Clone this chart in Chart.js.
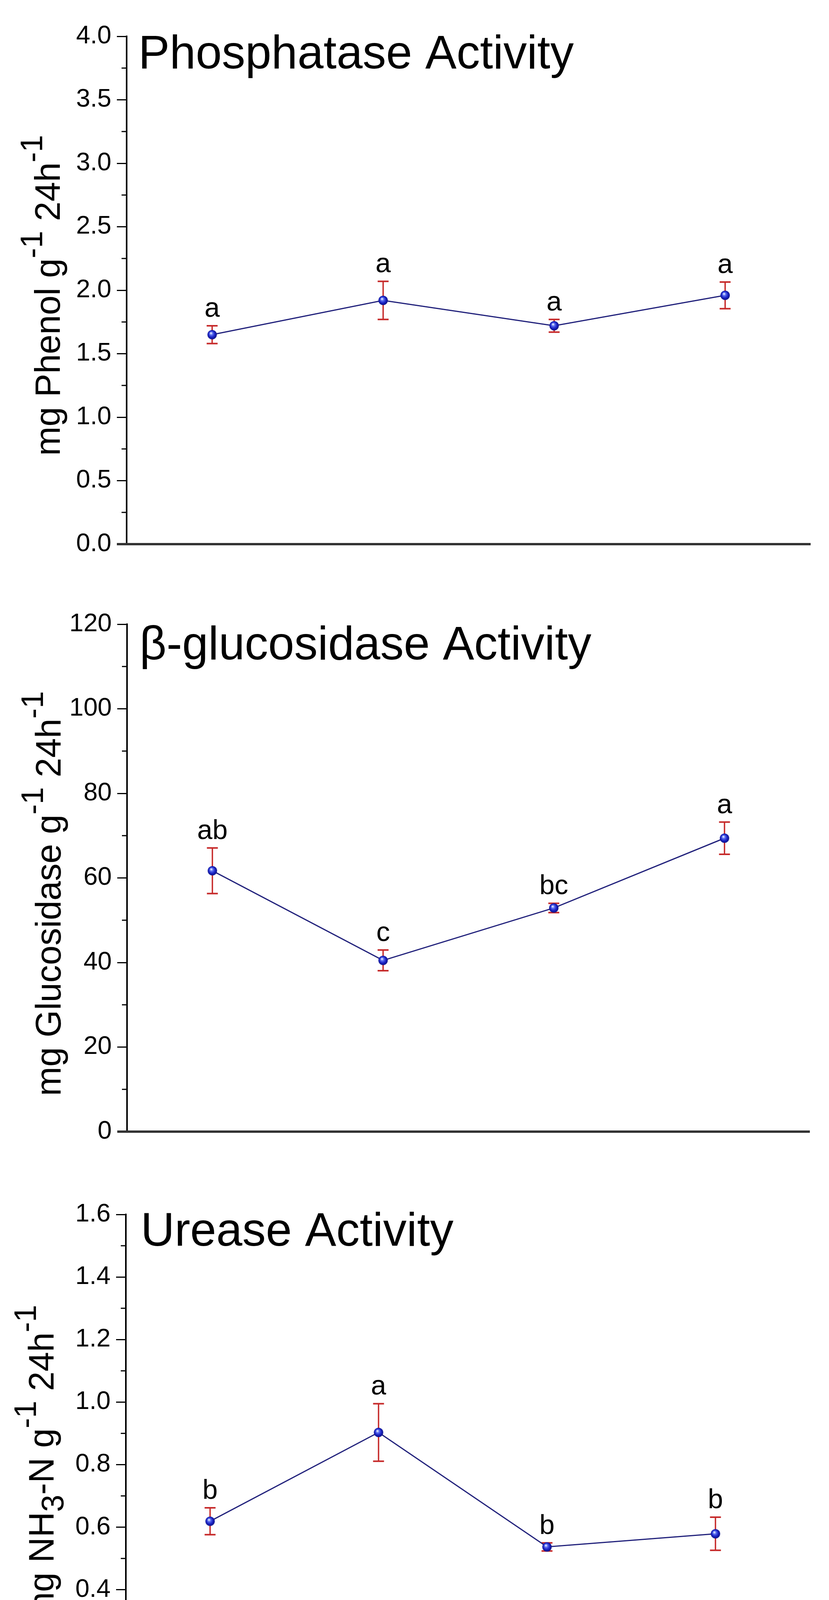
<!DOCTYPE html>
<html>
<head>
<meta charset="utf-8">
<script src="https://cdn.jsdelivr.net/npm/chart.js@4.4.1/dist/chart.umd.min.js"></script>
<style>
html, body { margin: 0; padding: 0; background: #fff; }
body { width: 2121px; height: 4557px; position: relative; overflow: hidden; }
.panel { position: absolute; left: 0; width: 2121px; }
</style>
</head>
<body>
<div class="panel" style="top:0;height:1500px"><canvas id="phos"></canvas></div>
<div class="panel" style="top:1500px;height:1500px"><canvas id="gluc"></canvas></div>
<div class="panel" style="top:3000px;height:1557px"><canvas id="urea"></canvas></div>
<script>
// data
const categories = ['CFF-3', 'CFF-15', 'CFF-25', 'CFF-45'];

const phosphatase = [1.65, 1.92, 1.72, 1.96];
const phosphataseErr = [0.07, 0.15, 0.05, 0.105];
const phosphataseLetters = ['a', 'a', 'a', 'a'];

const glucosidase = [61.7, 40.5, 52.9, 69.4];
const glucosidaseErr = [5.4, 2.45, 1.1, 3.8];
const glucosidaseLetters = ['ab', 'c', 'bc', 'a'];

const urease = [0.619, 0.903, 0.537, 0.579];
const ureaseErr = [0.043, 0.092, 0.013, 0.053];
const ureaseLetters = ['b', 'a', 'b', 'b'];

const FONT = '"Liberation Sans", Arial, Helvetica, sans-serif';

// shaded blue ball used as marker
function sphere() {
    const c = document.createElement('canvas');
    c.width = 26; c.height = 26;
    const g = c.getContext('2d');
    const grad = g.createRadialGradient(10, 9, 1, 13, 13, 13);
    grad.addColorStop(0, '#e4ecff');
    grad.addColorStop(0.25, '#5d6ff0');
    grad.addColorStop(0.6, '#1b24c6');
    grad.addColorStop(1, '#0a0c78');
    g.fillStyle = grad;
    g.beginPath();
    g.arc(13, 13, 12, 0, Math.PI * 2);
    g.fill();
    return c;
}
const ball = sphere();

// rotated axis title with super/subscripts
function drawRich(ctx, segs, x, y, size) {
    ctx.save();
    ctx.translate(x, y);
    ctx.rotate(-Math.PI / 2);
    ctx.textBaseline = 'alphabetic';
    ctx.textAlign = 'left';
    ctx.fillStyle = '#000';
    const parts = segs.map(s => {
        const fs = (s.sup || s.sub) ? size * 0.88 : size;
        ctx.font = fs + 'px ' + FONT;
        return {s: s, fs: fs, w: ctx.measureText(s.t).width};
    });
    const total = parts.reduce((a, p) => a + p.w, 0);
    let cx = -total / 2;
    parts.forEach(p => {
        ctx.font = p.fs + 'px ' + FONT;
        const dy = p.s.sup ? -size * 0.5 : (p.s.sub ? size * 0.28 : 0);
        ctx.fillText(p.s.t, cx, dy);
        cx += p.w;
    });
    ctx.restore();
}

const panelDecor = {
    id: 'panelDecor',
    beforeDatasetsDraw(chart, args, o) {
        const ctx = chart.ctx, x = chart.scales.x, y = chart.scales.y;
        const vals = chart.data.datasets[0].data;
        ctx.save();
        ctx.strokeStyle = '#c62a2a';
        vals.forEach((v, i) => {
            const px = x.getPixelForValue(i);
            const top = y.getPixelForValue(v + o.errs[i]);
            const bot = y.getPixelForValue(v - o.errs[i]);
            ctx.lineWidth = 3.5;
            ctx.beginPath();
            ctx.moveTo(px, top); ctx.lineTo(px, bot);
            ctx.stroke();
            ctx.lineWidth = 4;
            ctx.beginPath();
            ctx.moveTo(px - 14, top); ctx.lineTo(px + 14, top);
            ctx.moveTo(px - 14, bot); ctx.lineTo(px + 14, bot);
            ctx.stroke();
        });
        ctx.restore();
    },
    afterDatasetsDraw(chart, args, o) {
        const ctx = chart.ctx, x = chart.scales.x, y = chart.scales.y;
        const vals = chart.data.datasets[0].data;
        ctx.save();
        ctx.fillStyle = '#000';
        ctx.font = '70px ' + FONT;
        ctx.textAlign = 'center';
        ctx.textBaseline = 'alphabetic';
        vals.forEach((v, i) => {
            ctx.fillText(o.letters[i], x.getPixelForValue(i), y.getPixelForValue(v + o.errs[i]) - 23);
        });
        ctx.restore();
    },
    afterDraw(chart, args, o) {
        const ctx = chart.ctx, a = chart.chartArea, y = chart.scales.y;
        ctx.save();
        // minor ticks on y
        ctx.strokeStyle = '#000';
        ctx.lineWidth = 3;
        y.ticks.forEach(t => {
            if (!o.isMajor(t.value)) {
                const py = y.getPixelForValue(t.value);
                ctx.beginPath();
                ctx.moveTo(a.left - 13, py); ctx.lineTo(a.left, py);
                ctx.stroke();
            }
        });
        // minor ticks on x, between the categories
        if (o.xMinor) {
            const n = categories.length;
            for (let i = 0; i <= n; i++) {
                const px = a.left + i * (a.right - a.left) / n;
                ctx.beginPath();
                ctx.moveTo(px, a.bottom); ctx.lineTo(px, a.bottom + 15);
                ctx.stroke();
            }
        }
        // thick bottom axis
        ctx.strokeStyle = '#333';
        ctx.lineWidth = 6;
        ctx.beginPath();
        ctx.moveTo(a.left - 25, a.bottom); ctx.lineTo(a.right, a.bottom);
        ctx.stroke();
        // panel title
        ctx.fillStyle = '#000';
        ctx.font = '120px ' + FONT;
        ctx.textAlign = 'left';
        ctx.textBaseline = 'alphabetic';
        ctx.fillText(o.title, a.left + o.titleDX, a.top + o.titleDY);
        ctx.restore();
        drawRich(ctx, o.ylabel, o.labelX, (a.top + a.bottom) / 2 + o.labelDY, 90);
    }
};

function makeChart(id, p) {
    const isMajor = v => Math.abs(v / p.major - Math.round(v / p.major)) < 1e-6;
    return new Chart(document.getElementById(id), {
        type: 'line',
        data: {
            labels: categories,
            datasets: [{
                data: p.values,
                borderColor: '#1f1f7a',
                borderWidth: 3,
                tension: 0,
                pointStyle: ball,
                pointRadius: 12,
                fill: false
            }]
        },
        plugins: [panelDecor],
        options: {
            responsive: true,
            maintainAspectRatio: false,
            devicePixelRatio: 1,
            animation: false,
            layout: {padding: {top: p.top, right: p.right, left: 0, bottom: 0}},
            plugins: {
                legend: {display: false},
                tooltip: {enabled: false},
                panelDecor: {
                    errs: p.errs, letters: p.letters, title: p.title, ylabel: p.ylabel,
                    titleDX: p.titleDX, titleDY: p.titleDY, labelX: p.labelX, labelDY: p.labelDY,
                    xMinor: p.showX, isMajor: isMajor
                }
            },
            scales: {
                x: {
                    offset: true,
                    afterFit: s => { s.height = p.xHeight; },
                    border: {display: false},
                    grid: {
                        display: p.showX, offset: false, drawOnChartArea: false,
                        drawTicks: p.showX, tickLength: 27, tickWidth: 3, tickColor: '#000'
                    },
                    ticks: {
                        display: p.showX, color: '#000', padding: 4, maxRotation: 0,
                        font: {family: FONT, size: 84}
                    }
                },
                y: {
                    min: 0, max: p.max,
                    afterFit: s => { s.width = p.left; },
                    border: {display: true, color: '#000', width: 4},
                    grid: {
                        drawOnChartArea: false, drawTicks: true, tickLength: 25, tickWidth: 3,
                        tickColor: c => (c.tick && isMajor(c.tick.value)) ? '#000' : 'rgba(0,0,0,0)'
                    },
                    ticks: {
                        stepSize: p.step, autoSkip: false, color: '#000', padding: 14,
                        font: {family: FONT, size: 65},
                        callback: v => isMajor(v) ? v.toFixed(p.decimals) : ''
                    }
                }
            }
        }
    });
}

makeChart('phos', {
    values: phosphatase, errs: phosphataseErr, letters: phosphataseLetters,
    title: 'Phosphatase Activity',
    ylabel: [{t: 'mg Phenol g'}, {t: '-1', sup: true}, {t: ' 24h'}, {t: '-1', sup: true}],
    max: 4, step: 0.25, major: 0.5, decimals: 1,
    top: 93, right: 47, left: 324, xHeight: 107, showX: false,
    titleDX: 30, titleDY: 82, labelX: 153, labelDY: 13
});

makeChart('gluc', {
    values: glucosidase, errs: glucosidaseErr, letters: glucosidaseLetters,
    title: 'β-glucosidase Activity',
    ylabel: [{t: 'mg Glucosidase g'}, {t: '-1', sup: true}, {t: ' 24h'}, {t: '-1', sup: true}],
    max: 120, step: 10, major: 20, decimals: 0,
    top: 98, right: 49, left: 325, xHeight: 103, showX: false,
    titleDX: 32, titleDY: 90, labelX: 155, labelDY: 40
});

makeChart('urea', {
    values: urease, errs: ureaseErr, letters: ureaseLetters,
    title: 'Urease Activity',
    ylabel: [{t: 'mg NH'}, {t: '3', sub: true}, {t: '-N g'}, {t: '-1', sup: true}, {t: ' 24h'}, {t: '-1', sup: true}],
    max: 1.6, step: 0.1, major: 0.2, decimals: 1,
    top: 109, right: 75, left: 322, xHeight: 167, showX: true,
    titleDX: 38, titleDY: 80, labelX: 137, labelDY: -4
});
</script>
</body>
</html>
